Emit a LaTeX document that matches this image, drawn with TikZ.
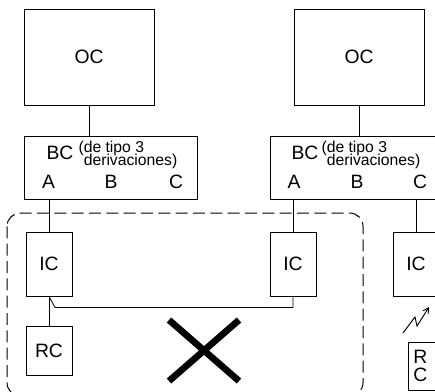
\documentclass[tikz,border=0pt]{standalone}
\usepackage{fontspec}
\setmainfont{Liberation Sans}
\usetikzlibrary{arrows.meta, positioning}

\begin{document}
\begin{tikzpicture}[
        x=0.75pt, y=-0.75pt,
        box/.style={rectangle, draw=black, line width=0.6pt, inner sep=0pt, font=\fontsize{14.5}{16}\selectfont},
        ocbox/.style={box, minimum width=97.5pt, minimum height=72pt},
        bcbox/.style={box, minimum width=129.75pt, minimum height=47.25pt},
        icbox/.style={box, minimum width=34.5pt, minimum height=48pt},
        rcbox/.style={box, minimum width=34.5pt, minimum height=36.75pt},
        port/.style={inner sep=0pt, font=\fontsize{14.5}{16}\selectfont},
        note/.style={inner sep=0pt, anchor=north west, align=left, font={\fontsize{11.8}{9.8}\selectfont\lineskiplimit=-10pt}},
        link/.style={line width=0.6pt, draw=black},
        zone/.style={line width=0.75pt, dash pattern=on 9pt off 4pt, rounded corners=10pt},
        cross/.style={line width=5pt},
        spark/.style={line width=0.7pt, -{Straight Barb[length=4pt, width=4.5pt]}}
    ]

    \useasboundingbox (0,0) rectangle (435,392);
    \clip (0,0) rectangle (435,392);

    % The Boxes
    \node (ocl) [ocbox] at (89,57) {OC};
    \node (ocr) [ocbox] at (359,57) {OC};

    \node (bcl) [bcbox] at (110.5,167.5) {};
    \node (bcr) [bcbox] at (356.5,167.5) {};

    \node (bcltext) [port] at (60,152.5) {BC};
    \node (bclnote) [note] at (83.5,141) {\llap{(}de tipo 3\\derivaciones)};
    \node (bcrtext) [port] at (305,152.5) {BC};
    \node (bcrnote) [note] at (326.5,141) {\llap{(}de tipo 3\\derivaciones)};

    \node (al) [port] at (48.5,181.5) {A};
    \node (bl) [port] at (111,181.5) {B};
    \node (cl) [port] at (176,181.5) {C};
    \node (ar) [port] at (294,181.5) {A};
    \node (br) [port] at (357,181.5) {B};
    \node (cr) [port] at (420,181.5) {C};

    \node (icl) [icbox] at (49,264) {IC};
    \node (icm) [icbox] at (293,264) {IC};
    \node (icr) [icbox] at (416,264) {IC};

    \node (rcl) [rcbox] at (49,350.5) {RC};
    \node (rcr) [box, anchor=north west, align=left, text width=16pt, inner xsep=3.75pt, minimum height=36pt, font=\fontsize{14.5}{13.5}\selectfont] at (408,342) {R\\C};

    % The lines connecting them
    \draw [link] (ocl.south) -- (ocl.south |- bcl.north);
    \draw [link] (ocr.south) -- (ocr.south |- bcr.north);
    \draw [link] (icl.north) -- (icl.north |- bcl.south);
    \draw [link] (icm.north) -- (icm.north |- bcr.south);
    \draw [link] (icr.north) -- (icr.north |- bcr.south);
    \draw [link] (icl) -- (rcl);
    \draw [link] (icl.south) -- ++(6,11) -| (icm.south);

    % The dashed zone and the ban
    \draw [zone] (7,213) rectangle (363,396);
    \draw [cross] (169,320) -- (239,381) (239,320) -- (169,381);

    % The radio link
    \draw [spark] (403,333) -- (415,317) -- (417,326) -- (429,307);

\end{tikzpicture}
\end{document}
